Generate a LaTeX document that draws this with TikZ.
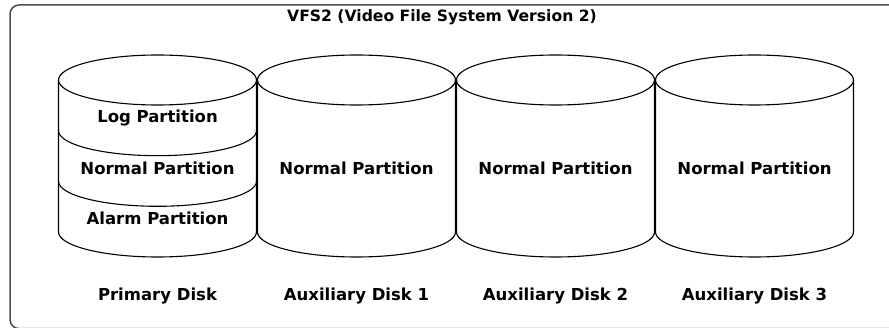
\documentclass[tikz,border=0pt]{standalone}
\usepackage{fontspec}
\setmainfont{DejaVu Sans}
\begin{document}
\begin{tikzpicture}[
    x=1pt, y=1pt,
    disk/.style={draw=black, line width=1.1pt, fill=white},
    outer frame/.style={draw=black!70, line width=1.5pt, rounded corners=9pt},
    txt/.style={font=\bfseries\fontsize{16.5}{18}\selectfont, inner sep=0pt},
    title txt/.style={txt, font=\bfseries\fontsize{15.6}{18}\selectfont}
  ]
  \clip (0,0) rectangle (889,-328);

  % Outer frame
  \draw[outer frame] (10,-328.6) rectangle (920,-5);
  \node[title txt] (title) at (442,-17) {VFS2 (Video File System Version 2)};

  % Disks
  \foreach \i/\name in {0/Primary Disk,1/Auxiliary Disk 1,2/Auxiliary Disk 2,3/Auxiliary Disk 3}{
    \pgfmathsetmacro{\cx}{157.5+199*\i}
    \draw[disk] (\cx-99,-80) -- (\cx-99,-232)
      arc[start angle=180, end angle=360, x radius=99, y radius=25] -- (\cx+99,-80);
    \draw[disk] (\cx,-80) ellipse[x radius=99, y radius=25];
    \node[txt] (disk-\i) at (\cx,-296) {\name};
  }

  % Partitions of the primary disk
  \draw[disk, fill=none] (58.5,-130.7) arc[start angle=180, end angle=360, x radius=99, y radius=25];
  \draw[disk, fill=none] (58.5,-181.3) arc[start angle=180, end angle=360, x radius=99, y radius=25];
  \node[txt] (log) at (157.5,-118) {Log Partition};
  \node[txt] (normal) at (157.5,-168) {Normal Partition};
  \node[txt] (alarm) at (157.5,-218) {Alarm Partition};

  % Auxiliary disks
  \foreach \i in {1,2,3}
    \node[txt] (normal-\i) at (157.5+199*\i,-168) {Normal Partition};

\end{tikzpicture}
\end{document}
